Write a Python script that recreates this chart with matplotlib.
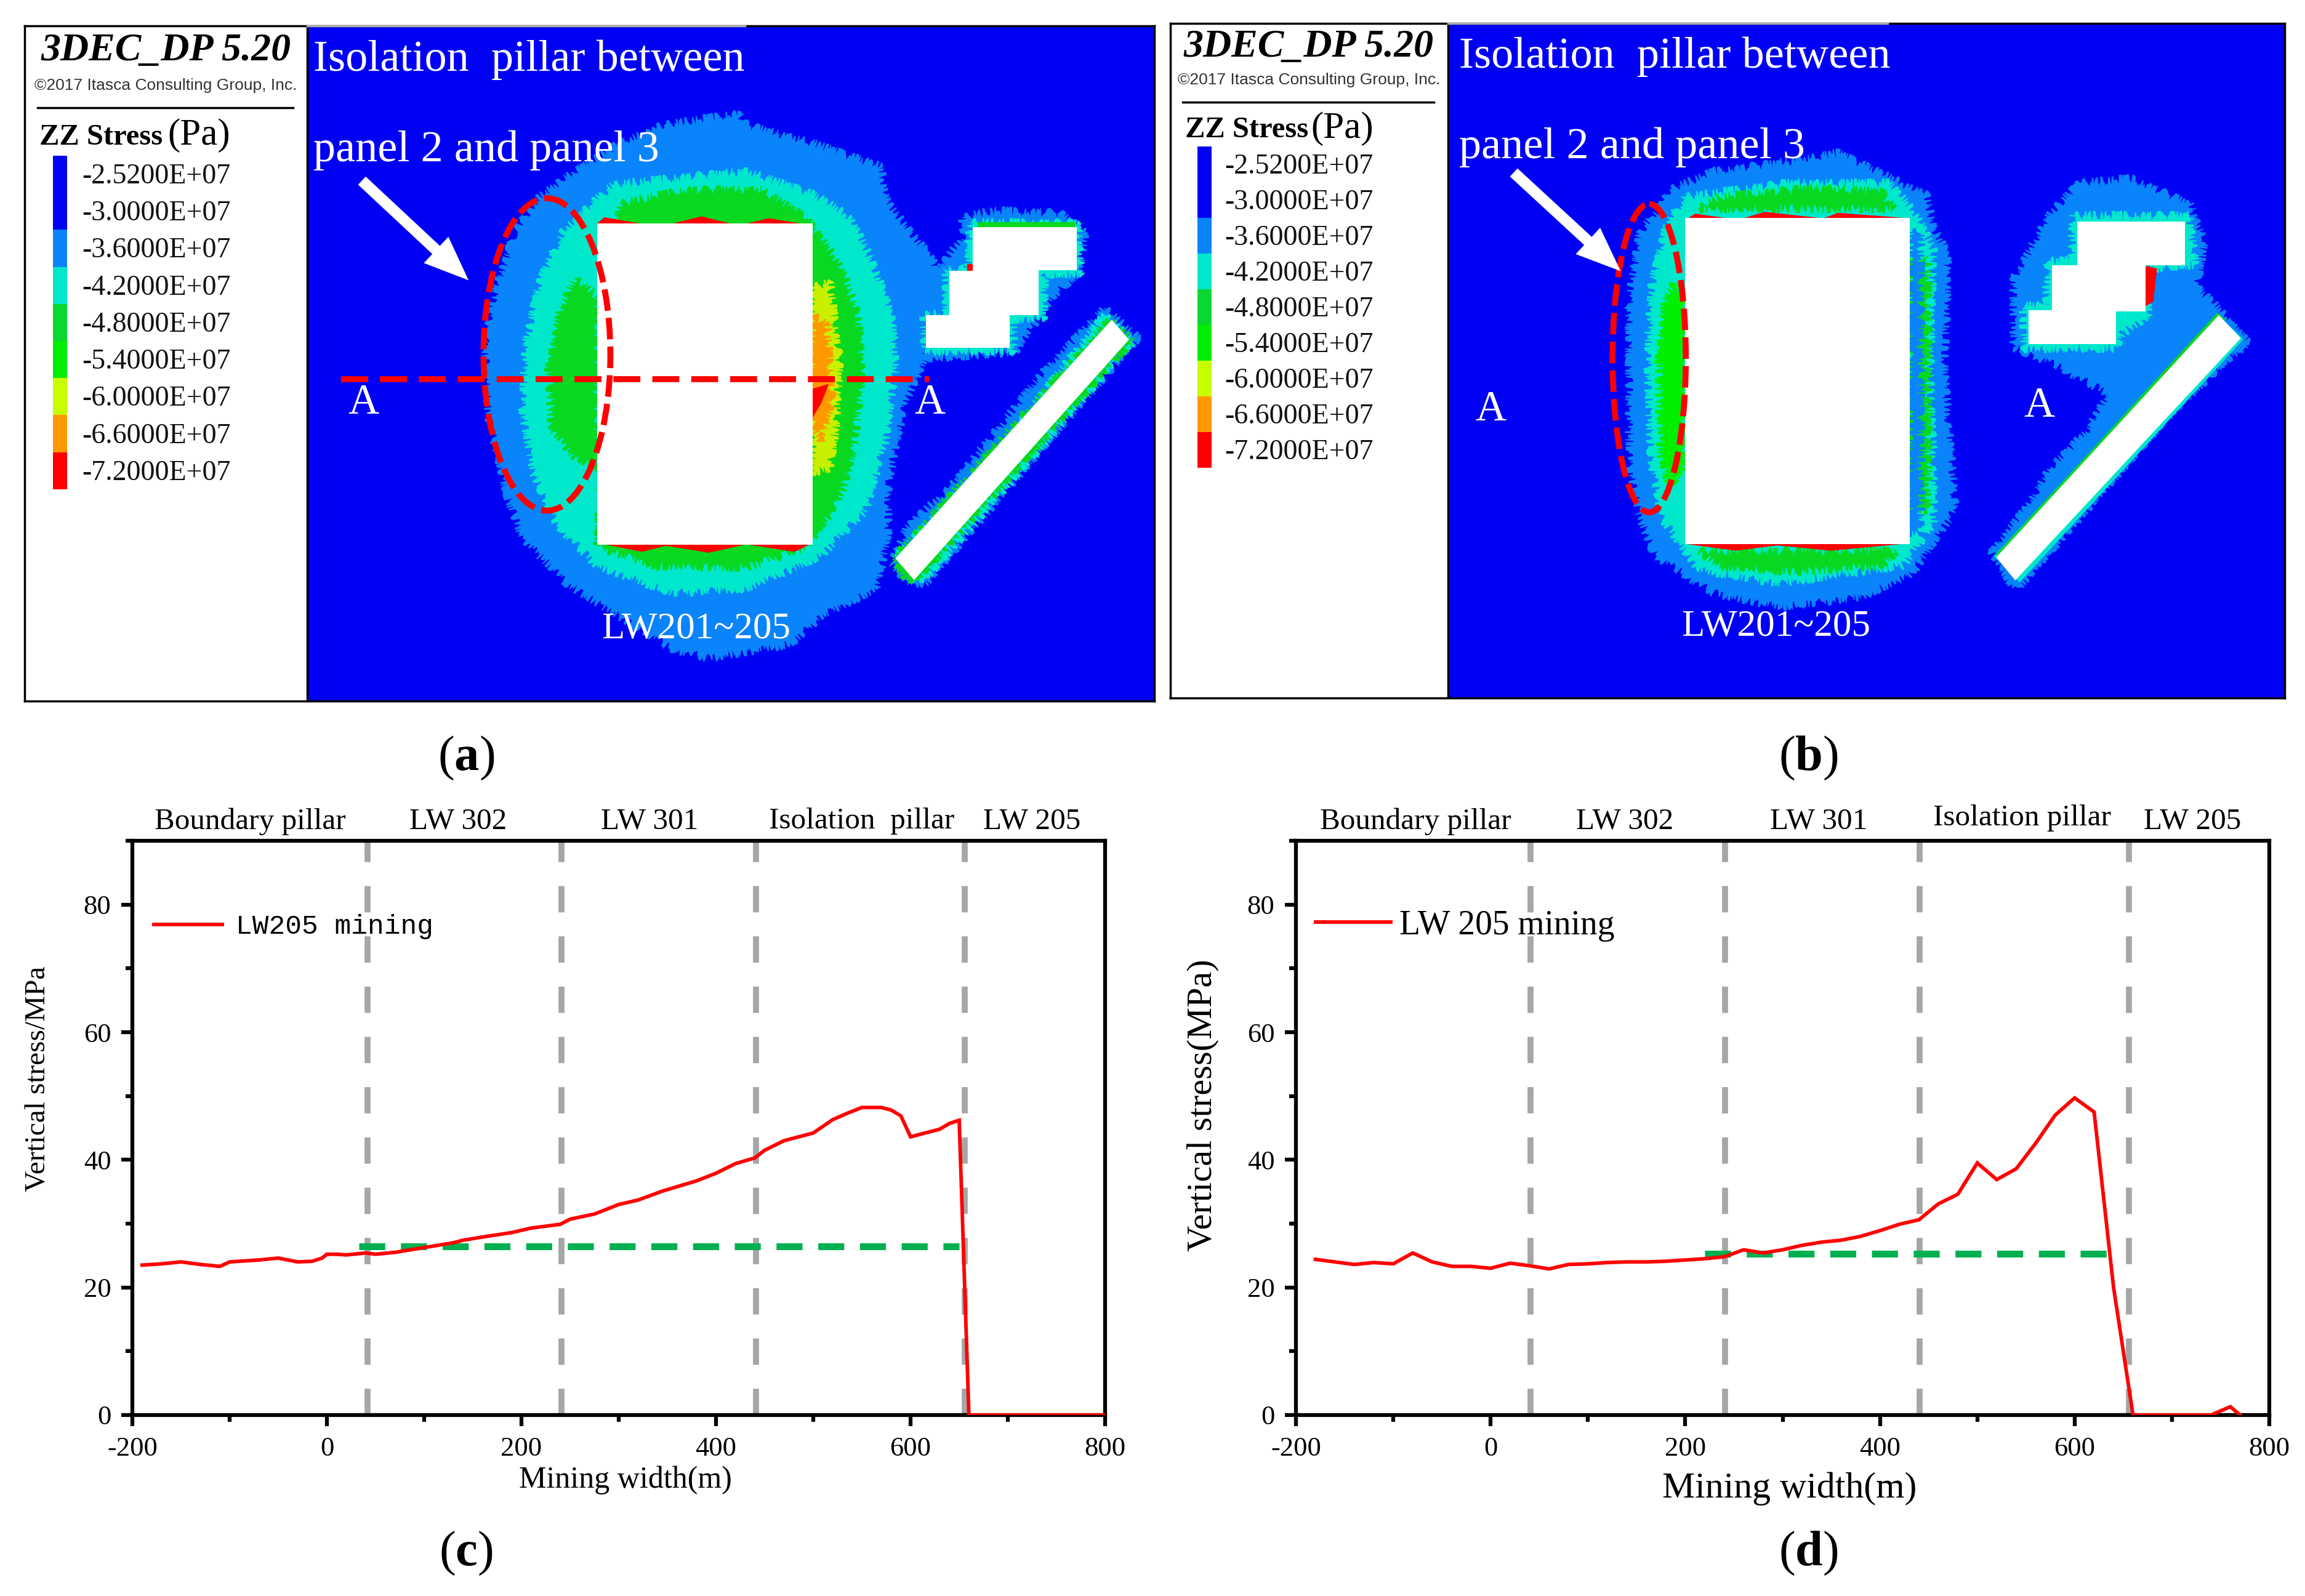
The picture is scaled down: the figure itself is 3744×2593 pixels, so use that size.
import matplotlib
matplotlib.use("Agg")
import matplotlib.pyplot as plt
from matplotlib.patches import Polygon, Rectangle, Ellipse, FancyArrowPatch
from matplotlib.ticker import MultipleLocator

plt.rcParams["font.family"] = ["Liberation Serif", "DejaVu Serif"]
plt.rcParams["mathtext.fontset"] = "custom"
plt.rcParams["mathtext.bf"] = "Liberation Serif:bold"
plt.rcParams["mathtext.rm"] = "Liberation Serif"
plt.rcParams["axes.unicode_minus"] = False

W, H = 3744, 2593

# line charts
c_x = [-190, -170, -150, -130, -110, -100, -90, -70, -50, -30, -15, -5, 0, 10, 20, 40, 50, 70, 90,
       110, 130, 140, 160, 190, 210, 240, 250, 275, 300, 320, 345, 380, 400, 420, 440, 450, 470,
       500, 520, 535, 550, 570, 580, 590, 600, 630, 640, 650, 660, 800]
c_y = [23.5, 23.7, 24, 23.6, 23.3, 24, 24.1, 24.3, 24.6, 24, 24.1, 24.6, 25.2, 25.2, 25.1, 25.4,
       25.2, 25.5, 26, 26.5, 27, 27.4, 27.9, 28.6, 29.3, 29.9, 30.7, 31.5, 33, 33.7, 35.1, 36.7,
       37.9, 39.4, 40.3, 41.5, 43, 44.2, 46.3, 47.3, 48.2, 48.2, 47.8, 46.9, 43.6, 44.8, 45.7,
       46.2, 0, 0]
d_x = [-180, -160, -140, -120, -100, -80, -60, -40, -20, 0, 20, 40, 60, 80, 100, 120, 140, 160,
       180, 200, 220, 240, 260, 280, 300, 320, 340, 360, 380, 400, 420, 440, 460, 480, 500, 520,
       540, 560, 580, 600, 620, 640, 660, 740, 760, 770]
d_y = [24.4, 24, 23.6, 23.9, 23.7, 25.4, 24, 23.3, 23.3, 23, 23.8, 23.4, 22.9, 23.6, 23.7, 23.9,
       24, 24, 24.1, 24.3, 24.5, 24.8, 25.9, 25.4, 25.9, 26.6, 27.1, 27.4, 28, 28.9, 29.9, 30.6,
       33.1, 34.6, 39.5, 36.9, 38.6, 42.6, 47, 49.7, 47.5, 20, 0, 0, 1.3, 0]
c_green_x = [33, 650]
c_green_y = [26.4, 26.4]
d_green_x = [220, 640]
d_green_y = [25.3, 25.3]
c_dividers = [42, 241, 441, 656]
d_dividers = [41, 241, 441, 656]
c_header_x = [-79, 135, 332, 550, 725]
d_header_x = [-77, 138, 337, 546, 721]
c_headers = ["Boundary pillar", "LW 302", "LW 301", "Isolation  pillar", "LW 205"]
d_headers = ["Boundary pillar", "LW 302", "LW 301", "Isolation pillar", "LW 205"]

# colour scale beside the stress maps
stress_labels = ["-2.5200E+07", "-3.0000E+07", "-3.6000E+07", "-4.2000E+07", "-4.8000E+07",
                 "-5.4000E+07", "-6.0000E+07", "-6.6000E+07", "-7.2000E+07"]
stress_colors = ["#0000f5", "#0000f5", "#0a84fa", "#00e8cc", "#08d830", "#00ee00",
                 "#c8ff00", "#ff9900", "#ff0000"]

# stress bands of map (a), traced in zoom pixels
a_blue = [(890, 270), (990, 245), (1000, 270), (1090, 310), (1180, 360), (1190, 440), (1250, 560),
          (1270, 660), (1240, 770), (1215, 860), (1200, 960), (1190, 1050), (1190, 1150), (1175, 1270),
          (1100, 1330), (1060, 1390), (950, 1420), (900, 1400), (830, 1330), (760, 1260), (700, 1160),
          (680, 1070), (655, 900), (650, 740), (665, 620), (690, 500), (720, 430), (770, 370), (830, 310)]
a_cyan = [(820, 400), (900, 385), (1000, 370), (1090, 420), (1140, 470), (1170, 570), (1195, 680),
          (1200, 800), (1185, 960), (1160, 1100), (1100, 1200), (1000, 1270), (900, 1280), (800, 1220),
          (745, 1130), (715, 1020), (700, 880), (705, 740), (725, 600), (755, 500)]
a_green_main = [(830, 440), (920, 410), (1020, 410), (1080, 470), (1125, 570), (1150, 680), (1155, 800),
                (1145, 960), (1125, 1080), (1080, 1180), (1000, 1225), (880, 1222), (800, 1180)]
a_green_left = [(770, 600), (800, 640), (800, 1010), (770, 985), (740, 930), (735, 800), (750, 680)]
a_yellow = [(1089, 620), (1112, 610), (1125, 780), (1120, 920), (1112, 1010), (1089, 1020)]
a_orange = [(1089, 680), (1108, 700), (1115, 860), (1100, 950), (1089, 920)]
a_red_spots = [(1089, 840), (1110, 830), (1100, 870), (1089, 900)]
a_red_top = [(810, 470), (860, 484), (800, 484)]
a_red_top2 = [(940, 468), (980, 484), (900, 484)]
a_red_top3 = [(1030, 472), (1075, 484), (1000, 484)]
a_red_bot = [(810, 1174), (900, 1174), (860, 1190)]
a_red_bot2 = [(880, 1174), (1000, 1174), (950, 1192)]
a_red_bot3 = [(1000, 1174), (1085, 1174), (1065, 1190)]
a_rect = [(800, 483), (1089, 483), (1089, 1175), (800, 1175)]
a_steps = [(1304, 490), (1443, 490), (1443, 583), (1392, 583), (1392, 680), (1353, 680), (1353, 750),
           (1241, 750), (1241, 680), (1272, 680), (1272, 585), (1304, 585)]
a_strip = [(1490, 690), (1513, 733), (1225, 1252), (1200, 1205)]
a_steps_blue = [(1290, 470), (1330, 455), (1420, 460), (1455, 500), (1445, 590), (1410, 640), (1390, 690),
                (1360, 760), (1240, 775), (1225, 680), (1255, 590), (1290, 510)]
a_steps_cyan = [(1300, 480), (1445, 482), (1448, 590), (1400, 592), (1398, 688), (1358, 690), (1358, 758),
                (1240, 758), (1238, 680), (1268, 675), (1268, 580), (1298, 578)]
a_step_green = [(1310, 480), (1440, 480), (1440, 492), (1310, 492)]
a_step_red = [(1296, 570), (1306, 570), (1306, 586), (1296, 586)]
a_strip_blue = [(1480, 665), (1525, 730), (1400, 960), (1240, 1260), (1215, 1255), (1195, 1215),
                (1215, 1140), (1280, 1040), (1400, 800)]
a_strip_cyan = [(1480, 680), (1518, 735), (1240, 1250), (1220, 1250), (1205, 1195), (1345, 960), (1440, 760)]
a_strip_green = [(1487, 692), (1517, 735), (1226, 1255), (1212, 1245), (1198, 1205)]

# stress bands of map (b), traced in zoom pixels
b_blue = [(700, 410), (760, 370), (880, 345), (930, 330), (990, 375), (1050, 420), (1060, 490), (1080, 550),
          (1075, 800), (1085, 1000), (1090, 1100), (1060, 1170), (1030, 1240), (960, 1290), (850, 1310),
          (760, 1280), (680, 1200), (660, 1120), (645, 1000), (645, 800), (645, 640), (660, 500), (690, 440)]
b_cyan = [(720, 425), (860, 395), (1000, 395), (1040, 470), (1060, 540), (1055, 800), (1060, 1000),
          (1060, 1130), (1020, 1220), (850, 1260), (740, 1230), (690, 1120), (675, 1000), (670, 780),
          (675, 620), (695, 490)]
b_green_top = [(740, 450), (770, 425), (900, 405), (990, 415), (1005, 450)]
b_green_bottom = [(740, 1190), (1010, 1190), (990, 1220), (870, 1235), (770, 1222)]
b_green_left = [(721, 640), (721, 1000), (700, 1050), (688, 980), (685, 780), (695, 640), (708, 610)]
b_right_green = [(1028, 560), (1052, 560), (1052, 800), (1052, 1100), (1028, 1100)]
b_right_blue = [(1028, 500), (1042, 500), (1042, 800), (1042, 1150), (1028, 1150)]
b_red_top = [(735, 462), (780, 472), (725, 472)]
b_red_top2 = [(830, 458), (910, 472), (800, 472)]
b_red_top3 = [(930, 460), (1028, 472), (910, 472)]
b_red_bot = [(725, 1174), (860, 1174), (790, 1188)]
b_red_bot2 = [(830, 1174), (1015, 1174), (920, 1188)]
b_rect = [(721, 470), (1028, 470), (1028, 1175), (721, 1175)]
b_steps = [(1257, 478), (1404, 478), (1404, 572), (1350, 572), (1350, 672), (1310, 672), (1310, 743),
           (1190, 743), (1190, 670), (1222, 670), (1222, 572), (1257, 572)]
b_strip = [(1450, 680), (1480, 730), (1172, 1253), (1146, 1203)]
b_halo_blue = [(1260, 395), (1330, 385), (1410, 440), (1430, 520), (1420, 620), (1440, 650), (1490, 740),
               (1420, 830), (1350, 950), (1240, 1150), (1170, 1270), (1140, 1190), (1190, 1090), (1220, 1010),
               (1270, 930), (1300, 850), (1230, 790), (1170, 750), (1170, 600), (1220, 460)]
b_halo_cyan = [(1250, 465), (1410, 465), (1418, 570), (1355, 580), (1355, 680), (1318, 720), (1310, 752),
               (1185, 752), (1182, 660), (1215, 660), (1215, 565), (1250, 560)]
b_strip_cyan = [(1450, 672), (1488, 735), (1380, 900), (1180, 1262), (1142, 1200), (1240, 1030), (1370, 800)]
b_strip_green = [(1448, 680), (1483, 732), (1178, 1256), (1144, 1200)]
b_strip_lime = [(1448, 676), (1458, 690), (1160, 1212), (1146, 1198)]
b_strip_red = [(1380, 800), (1392, 808), (1375, 850), (1362, 838)]
b_red_step = [(1350, 575), (1365, 580), (1360, 650), (1350, 660)]

MAP_BLUE = "#0000f5"
LIGHT = "#0a84fa"
CYAN = "#00e8cc"
GREEN = "#08d820"
BRIGHT = "#00ee00"
YELLOW = "#c8f000"
ORANGE = "#ff9900"
RED = "#ff0000"


def px_axes(fig, left, top, right, bottom):
    return fig.add_axes([left / W, 1 - bottom / H, (right - left) / W, (bottom - top) / H])


def band(ax, pts, color, rough=(7, 16, 24)):
    p = Polygon(pts, closed=True, facecolor=color, edgecolor=color, linewidth=1)
    if len(pts) > 4:
        p.set_sketch_params(*rough)
    ax.add_patch(p)


def draw_map(ax, bands, holes, side, bar_x, label_x, first_y, step, ellipse, arrow, texts, head_x, head_y):
    x0, x1, y1, y0 = ax.axis()
    ax.add_patch(Rectangle((x0, y0), side - x0, y1 - y0, fc="white", ec="none"))
    ax.add_patch(Rectangle((side, y0), x1 - side, y1 - y0, fc=MAP_BLUE, ec="none"))
    for pts, color in bands:
        band(ax, pts, color)
    for pts in holes:
        ax.add_patch(Polygon(pts, closed=True, fc="white", ec="none"))

    # colour scale and its header
    for i, (lab, col) in enumerate(zip(stress_labels, stress_colors)):
        top = first_y + step * (i - 0.5)
        bot = first_y + step * (i + 0.5) if i < 8 else first_y + step * 8.5
        ax.add_patch(Rectangle((bar_x, top), 19, bot - top, fc=col, ec="none"))
        ax.text(label_x, first_y + step * i + 5, lab, fontsize=33, va="center", ha="left", color="#111111")
    ax.text(head_x + 172, head_y[0], "3DEC_DP 5.20", fontsize=46, style="italic", weight="bold",
            ha="center", va="center")
    ax.text(head_x + 172, head_y[1], "©2017 Itasca Consulting Group, Inc.", fontsize=19,
            family="Liberation Sans", ha="center", va="center", color="#333333")
    ax.plot([head_x, head_x + 343], [head_y[2], head_y[2]], color="black", lw=2.5)
    ax.text(head_x + 3, head_y[3], "ZZ Stress", fontsize=35, weight="bold", ha="left", va="center")
    ax.text(head_x + 175, head_y[3] - 3, "(Pa)", fontsize=44, ha="left", va="center")

    # annotations on the map
    ax.add_patch(Ellipse(ellipse[:2], ellipse[2], ellipse[3], fc="none", ec=RED, lw=7, ls=(0, (3.6, 1.2))))
    ax.add_patch(FancyArrowPatch(arrow[0], arrow[1], mutation_scale=1, shrinkA=0, shrinkB=0, lw=0,
                                 arrowstyle="simple,head_length=52,head_width=42,tail_width=13",
                                 color="white"))
    for x, y, s, size, ha in texts:
        ax.text(x, y, s, color="white", fontsize=size, ha=ha, va="center")
    ax.set_xticks([])
    ax.set_yticks([])
    for sp in ax.spines.values():
        sp.set_linewidth(2.5)
    ax.plot([side, side], [y0, y1], color="black", lw=2.5)
    ax.plot([side, 998], [y0, y0], color="#aaaaaa", lw=2.5, zorder=5, clip_on=False)


def draw_chart(ax, x, y, gx, gy, dividers, headers, header_x, legend, legend_font, legend_size,
               legend_pos, handle_len, text_pad, ylabel, ylab_size, xlab_size, ylab_xy, xlab_xy, iso_y):
    ax.plot(x, y, color=RED, lw=4.2, label=legend, zorder=3, solid_joinstyle="miter")
    for d in dividers:
        ax.plot([d, d], [0, 90], color="#a6a6a6", lw=7, ls=(0, (4.4, 4)), zorder=2)
    ax.plot(gx, gy, color="#00b050", lw=8, ls=(0, (3.8, 2.3)), zorder=2)
    ax.set_xlim(-200, 800)
    ax.set_ylim(0, 90)
    ax.xaxis.set_major_locator(MultipleLocator(200))
    ax.xaxis.set_minor_locator(MultipleLocator(100))
    ax.yaxis.set_major_locator(MultipleLocator(20))
    ax.yaxis.set_minor_locator(MultipleLocator(10))
    ax.tick_params(which="major", length=13, width=4.5, labelsize=32, pad=12)
    ax.tick_params(which="minor", length=8, width=4.5)
    for sp in ax.spines.values():
        sp.set_linewidth(4.5)
    ax.set_xlabel("Mining width(m)", fontsize=xlab_size)
    ax.set_ylabel(ylabel, fontsize=ylab_size)
    ax.xaxis.set_label_coords(*xlab_xy)
    ax.yaxis.set_label_coords(*ylab_xy)
    ax.legend(loc="center left", bbox_to_anchor=legend_pos, bbox_transform=ax.transData, frameon=False,
              borderpad=0, borderaxespad=0, handlelength=handle_len, handletextpad=text_pad,
              prop={"family": legend_font, "size": legend_size})
    for hx, s in zip(header_x, headers):
        hy = iso_y if s.startswith("Isolation") else 1.034
        ax.text(hx, hy, s, fontsize=35.5, ha="center", va="center", transform=ax.get_xaxis_transform())


fig = plt.figure(figsize=(W / 100, H / 100), dpi=100)

ax_a = px_axes(fig, 40, 42, 1875, 1139)
ax_a.set_xlim(33, 1547)
ax_a.set_ylim(1513, 56)
a_bands = [(a_blue, LIGHT), (a_cyan, CYAN), (a_green_main, GREEN), (a_green_left, GREEN), (a_yellow, YELLOW),
           (a_orange, ORANGE), (a_red_spots, RED), (a_red_top, RED), (a_red_top2, RED), (a_red_top3, RED),
           (a_red_bot, RED), (a_red_bot2, RED), (a_red_bot3, RED), (a_steps_blue, LIGHT), (a_steps_cyan, CYAN),
           (a_step_green, GREEN), (a_step_red, RED), (a_strip_blue, LIGHT), (a_strip_cyan, CYAN),
           (a_strip_green, GREEN)]
a_texts = [(420, 130, "Isolation  pillar between", 52, "left"), (420, 325, "panel 2 and panel 3", 52, "left"),
           (487, 870, "A", 50, "center"), (1246, 870, "A", 50, "center"), (933, 1358, "LW201~205", 44, "center")]
draw_map(ax_a, a_bands, [a_rect, a_steps, a_strip], 412, 71, 110, 376, 80, (733, 765, 170, 674),
         ((485, 390), (628, 605)), a_texts, 50, (110, 185, 233, 296))
ax_a.plot([457, 1245], [818, 818], color=RED, lw=7, ls=(0, (4.5, 2)))

ax_b = px_axes(fig, 1901, 38, 3711, 1134)
ax_b.set_xlim(18, 1540)
ax_b.set_ylim(1507, 50)
b_bands = [(b_blue, LIGHT), (b_cyan, CYAN), (b_green_top, GREEN), (b_green_bottom, GREEN), (b_green_left, BRIGHT),
           (b_right_green, GREEN), (b_right_blue, LIGHT), (b_red_top, RED), (b_red_top2, RED), (b_red_top3, RED),
           (b_red_bot, RED), (b_red_bot2, RED), (b_halo_blue, LIGHT), (b_halo_cyan, CYAN), (b_strip_cyan, LIGHT),
           (b_strip_green, CYAN), (b_strip_lime, GREEN), (b_strip_red, RED), (b_red_step, RED)]
b_texts = [(412, 122, "Isolation  pillar between", 52, "left"), (412, 317, "panel 2 and panel 3", 52, "left"),
           (456, 885, "A", 50, "center"), (1205, 877, "A", 50, "center"), (845, 1353, "LW201~205", 44, "center")]
draw_map(ax_b, b_bands, [b_rect, b_steps, b_strip], 397, 55, 92, 355, 77, (672, 773, 100, 666),
         ((487, 372), (633, 585)), b_texts, 35, (102, 172, 220, 280))

ax_c = px_axes(fig, 215, 1366, 1795, 2299)
draw_chart(ax_c, c_x, c_y, c_green_x, c_green_y, c_dividers, c_headers, c_header_x, "LW205 mining",
           "Liberation Mono", 32, (-178, 76.5), 2.5, 0.5, "Vertical stress/MPa", 34, 36,
           (-0.083, 0.585), (0.507, -0.088), 1.034)

ax_d = px_axes(fig, 2105, 1366, 3686, 2299)
draw_chart(ax_d, d_x, d_y, d_green_x, d_green_y, d_dividers, d_headers, d_header_x, "LW 205 mining",
           "Liberation Serif", 40, (-180, 76.7), 2.2, 0.25, "Vertical stress(MPa)", 42, 43,
           (-0.079, 0.539), (0.507, -0.099), 1.04)

for x, y, letter in [(757, 1232, "a"), (2937, 1232, "b"), (757, 2524, "c"), (2937, 2524, "d")]:
    fig.text(x / W, 1 - y / H, "(" + r"$\mathbf{" + letter + "}$" + ")", fontsize=58, ha="center", va="center")

fig.savefig("out.png", dpi=100)
